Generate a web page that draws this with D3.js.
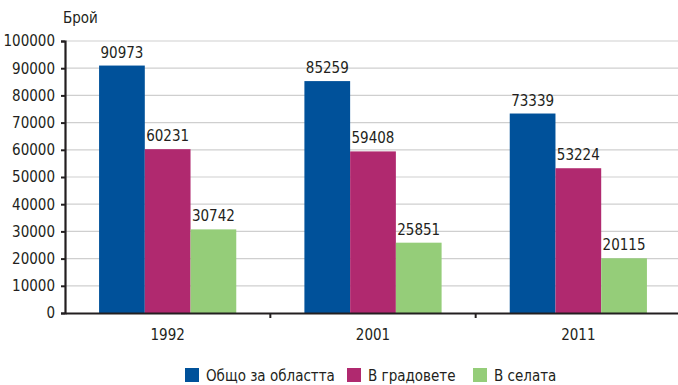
<!DOCTYPE html>
<html>
<head>
<meta charset="utf-8">
<script src="https://cdn.jsdelivr.net/npm/d3@7"></script>
<style>
  html, body { margin: 0; padding: 0; background: #fff; }
  svg { display: block; }
  text { font-family: "DejaVu Sans Condensed", "Liberation Sans Narrow", sans-serif; fill: #231f20; }
</style>
</head>
<body>
<svg id="chart" width="678" height="385"></svg>
<script>
// Population by year: whole region, towns, villages
const years = ["1992", "2001", "2011"];
const seriesNames = ["Общо за областта", "В градовете", "В селата"];
const totalRegion = [90973, 85259, 73339];
const inTowns = [60231, 59408, 53224];
const inVillages = [30742, 25851, 20115];
const yTicks = [0, 10000, 20000, 30000, 40000, 50000, 60000, 70000, 80000, 90000, 100000];
const colors = ["#00519a", "#b0296f", "#95cd79"];

const series = [totalRegion, inTowns, inVillages];
const FS = "15px";

const svg = d3.select("#chart");
const margin = { left: 65, right: -3, top: 41, bottom: 72 };
const W = 678, H = 385;

const x = d3.scaleBand().domain(years).range([margin.left, W - margin.right]).paddingInner(0).paddingOuter(0);
const x1 = d3.scaleBand().domain(d3.range(series.length)).range([0, x.bandwidth()]).paddingInner(0).paddingOuter(0.745);
const y = d3.scaleLinear().domain([0, 100000]).range([H - margin.bottom, margin.top]);

// horizontal gridlines
svg.append("g")
  .selectAll("line")
  .data(yTicks.filter(d => d > 0))
  .join("line")
  .attr("x1", margin.left).attr("x2", W)
  .attr("y1", d => y(d)).attr("y2", d => y(d))
  .attr("stroke", "#cfcfcf").attr("stroke-width", 1.2);

// bars
const groups = svg.append("g")
  .selectAll("g")
  .data(years)
  .join("g")
  .attr("transform", d => `translate(${x(d)},0)`);

const cells = (d, i) => series.map((s, k) => ({ k, v: s[i] }));

groups.selectAll("rect")
  .data(cells)
  .join("rect")
  .attr("x", d => x1(d.k))
  .attr("width", x1.bandwidth())
  .attr("y", d => y(d.v))
  .attr("height", d => y(0) - y(d.v))
  .attr("fill", d => colors[d.k]);

// value labels
groups.selectAll("text.val")
  .data(cells)
  .join("text")
  .attr("class", "val")
  .attr("x", d => x1(d.k) + x1.bandwidth() / 2)
  .attr("y", d => y(d.v) - 8)
  .attr("text-anchor", "middle")
  .style("font-size", FS)
  .text(d => d.v);

// y axis
const yAxis = d3.axisLeft(y).tickValues(yTicks).tickSize(4).tickPadding(6).tickFormat(d3.format("d"));
const gy = svg.append("g").attr("transform", `translate(${margin.left},0)`).call(yAxis);
gy.select(".domain").attr("stroke", "#231f20").attr("stroke-width", 2.2);
gy.selectAll(".tick line").attr("stroke", "#231f20").attr("stroke-width", 2);
gy.selectAll(".tick text").style("font-size", FS).attr("fill", "#231f20");

// x axis
const xAxis = d3.axisBottom(x).tickSize(0).tickPadding(16);
const gx = svg.append("g").attr("transform", `translate(0,${y(0)})`).call(xAxis);
gx.select(".domain").attr("stroke", "#231f20").attr("stroke-width", 2.2);
gx.selectAll(".tick text").style("font-size", FS).attr("fill", "#231f20");

// category separators on the x axis
svg.append("g")
  .selectAll("line")
  .data(years.slice(1))
  .join("line")
  .attr("x1", d => x(d)).attr("x2", d => x(d))
  .attr("y1", y(0)).attr("y2", y(0) + 5)
  .attr("stroke", "#231f20").attr("stroke-width", 2);

// y axis title
svg.append("text")
  .attr("x", 63).attr("y", 23)
  .style("font-size", FS)
  .text("Брой");

// legend
const legendX = [185, 347, 473];
const legend = svg.append("g");
seriesNames.forEach((name, k) => {
  legend.append("rect")
    .attr("x", legendX[k]).attr("y", 368)
    .attr("width", 14).attr("height", 14)
    .attr("fill", colors[k]);
  legend.append("text")
    .attr("x", legendX[k] + 21).attr("y", 381)
    .style("font-size", FS)
    .text(name);
});
</script>
</body>
</html>
